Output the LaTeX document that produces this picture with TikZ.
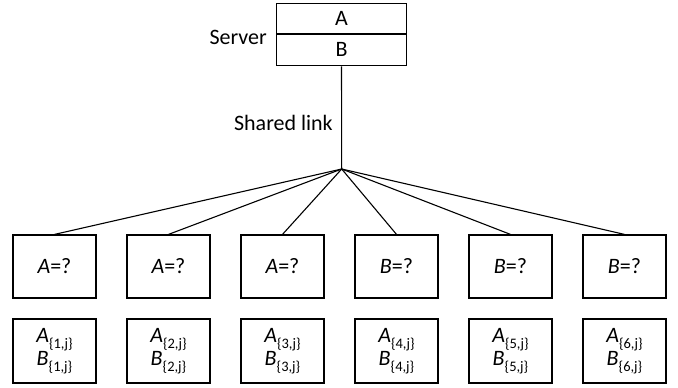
\documentclass[tikz,border=0pt]{standalone}
\usepackage{fontspec}
\setmainfont{Carlito}
\newcommand{\lbsub}[1]{\raisebox{-0.28em}{\fontsize{14.5}{15}\selectfont\{#1\}}}
\begin{document}
\begin{tikzpicture}[x=1pt,y=-1pt,
  every node/.style={font=\fontsize{22}{21}\selectfont},
  box/.style={draw,line width=1.2pt,minimum width=83pt,inner sep=0pt,align=center},
  srv/.style={draw,line width=1.2pt,minimum width=130pt,inner sep=0pt},
  link/.style={line width=1.1pt}]
\useasboundingbox (0,0) rectangle (678,388);
\node[srv,minimum height=30.5pt] (srvA) at (341.5,18.75) {A};
\node[srv,minimum height=31.7pt] (srvB) at (341.5,49.85) {B};
\node[anchor=east,inner sep=1pt] (srvlabel) at (268,37) {Server};
\coordinate (hub) at (341.7,169);
\draw[link] (srvB.south) -- (hub);
\node[anchor=east,inner sep=1pt] (shared) at (334,123) {Shared link};
\foreach \i/\L in {1/A,2/A,3/A,4/B,5/B,6/B}{
  \node[box,minimum height=63pt] (q\i) at ({54.5+114*(\i-1)},266.5) {\textit{\L}=?};
  \node[box,minimum height=64pt] (c\i) at ({54.5+114*(\i-1)},351) {\textit{A}\lbsub{\i,j}\\[-1pt]\textit{B}\lbsub{\i,j}};
  \draw[link] (hub) -- (q\i.north);
}
\end{tikzpicture}
\end{document}
